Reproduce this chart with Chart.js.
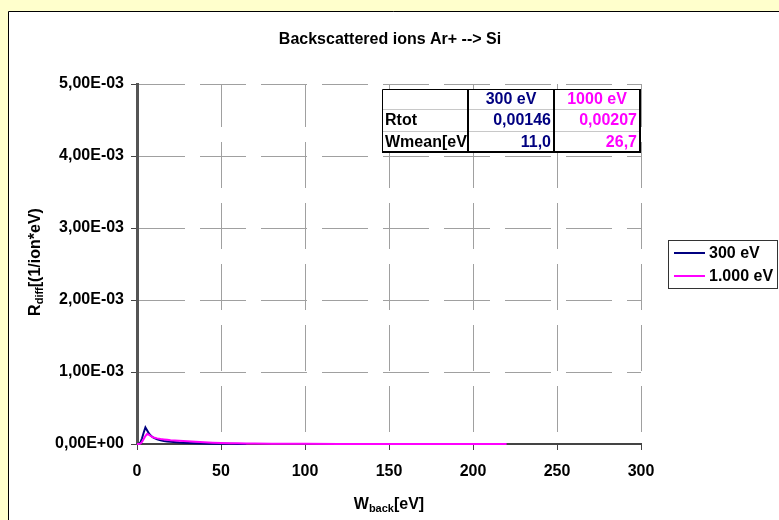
<!DOCTYPE html>
<html lang="en">
<head>
    <meta charset="UTF-8">
    <title>Backscattered ions Ar+ --> Si</title>
    <script src="https://cdn.jsdelivr.net/npm/chart.js"></script>
    <style>
        body { margin: 0; background: #FFFFCC; }
        #wrap { width: 779px; height: 520px; }
    </style>
</head>
<body>
    <div id="wrap"><canvas id="chart" width="779" height="520"></canvas></div>
    <script>
        // energies of backscattered ions [eV]
        const energy300 = [0, 1, 2, 3, 4, 5, 6, 7, 8, 9, 10, 12, 14, 16, 18, 20, 25, 30, 35, 40, 45, 50, 55, 60, 65];
        const rdiff300 = [0, 0, 0.00002, 0.00008, 0.00016, 0.00023, 0.00019, 0.00015, 0.00012, 0.0001, 0.000085, 0.000065,
            0.000052, 0.000043, 0.000036, 0.00003, 0.00002, 0.000014, 0.00001, 0.000007, 0.000005, 0.000003, 0.000002, 0.000001, 0];

        const energy1000 = [0, 1, 2, 3, 4, 5, 6, 7, 8, 9, 10, 12, 14, 16, 18, 20, 25, 30, 35, 40, 45, 50, 55, 60, 65,
            70, 80, 90, 100, 120, 140, 160, 180, 200, 220];
        const rdiff1000 = [0, 0, 0.000005, 0.00003, 0.00007, 0.00011, 0.00014, 0.00013, 0.000115, 0.0001, 0.00009, 0.000078,
            0.00007, 0.000064, 0.000058, 0.000053, 0.000045, 0.000037, 0.00003, 0.000024, 0.000019, 0.000015, 0.000012, 0.00001, 0.000008,
            0.000006, 0.000004, 0.000003, 0.000002, 0.0000015, 0.000001, 0.0000008, 0.0000005, 0.0000003, 0];

        const seriesLabels = ['300 eV', '1.000 eV'];
        const xTicks = [0, 50, 100, 150, 200, 250, 300];
        const yTicks = [0, 0.001, 0.002, 0.003, 0.004, 0.005];

        // summary table in the top right of the plot
        const tableHeader = ['', '300 eV', '1000 eV'];
        const tableRows = [
            ['Rtot', '0,00146', '0,00207'],
            ['Wmean[eV]', '11,0', '26,7']
        ];

        const NAVY = '#000080';
        const MAGENTA = '#FF00FF';
        const FONT = 'bold 16px "Liberation Sans", Arial, sans-serif';

        function fmtSci(v) {
            if (Math.abs(v) < 1e-12) return '0,00E+00';
            const e = Math.floor(Math.log10(Math.abs(v)) + 1e-9);
            const m = v / Math.pow(10, e);
            return m.toFixed(2).replace('.', ',') + 'E' + (e < 0 ? '-' : '+') + String(Math.abs(e)).padStart(2, '0');
        }

        const toPoints = (xs, ys) => xs.map((x, i) => ({ x: x, y: ys[i] }));

        // background, frame, title, axis titles, table, legend
        const decorations = {
            id: 'decorations',
            beforeDraw(chart) {
                const ctx = chart.ctx;
                ctx.save();
                ctx.fillStyle = '#FFFFCC';
                ctx.fillRect(0, 0, chart.width, chart.height);
                ctx.fillStyle = '#FFFFFF';
                ctx.fillRect(8, 11, chart.width, chart.height);
                ctx.strokeStyle = '#000';
                ctx.lineWidth = 1;
                ctx.beginPath();
                ctx.moveTo(8.5, chart.height);
                ctx.lineTo(8.5, 11.5);
                ctx.lineTo(chart.width, 11.5);
                ctx.stroke();
                ctx.restore();
            },
            afterDraw(chart) {
                const ctx = chart.ctx;
                const area = chart.chartArea;
                ctx.save();
                ctx.fillStyle = '#000';

                // title
                ctx.font = FONT;
                ctx.textAlign = 'center';
                ctx.textBaseline = 'middle';
                ctx.fillText('Backscattered ions Ar+ --> Si', 390, 40);

                // x axis title with subscript
                drawSub(ctx, 'W', 'back', '[eV]', (area.left + area.right) / 2, 509);

                // y axis title, rotated
                ctx.save();
                ctx.translate(40, 262);
                ctx.rotate(-Math.PI / 2);
                drawSub(ctx, 'R', 'diff', '[(1/ion*eV)', 0, 0);
                ctx.restore();

                drawTable(ctx);
                drawLegend(ctx, chart);
                ctx.restore();
            }
        };

        function drawSub(ctx, main, sub, rest, cx, baseline) {
            const subFont = 'bold 11px "Liberation Sans", Arial, sans-serif';
            ctx.font = FONT;
            const w1 = ctx.measureText(main).width;
            const w3 = ctx.measureText(rest).width;
            ctx.font = subFont;
            const w2 = ctx.measureText(sub).width;
            let x = cx - (w1 + w2 + w3) / 2;
            ctx.textAlign = 'left';
            ctx.textBaseline = 'alphabetic';
            ctx.fillStyle = '#000';
            ctx.font = FONT;
            ctx.fillText(main, x, baseline);
            x += w1;
            ctx.font = subFont;
            ctx.fillText(sub, x, baseline + 3);
            x += w2;
            ctx.font = FONT;
            ctx.fillText(rest, x, baseline);
        }

        function drawTable(ctx) {
            const cols = [382, 468, 554, 640];
            const rows = [89, 109, 131, 152];
            const colours = ['#000', NAVY, MAGENTA];
            ctx.fillStyle = '#fff';
            ctx.fillRect(cols[0], rows[0], cols[3] - cols[0], rows[3] - rows[0]);

            const all = [tableHeader].concat(tableRows);
            ctx.font = FONT;
            ctx.textBaseline = 'middle';
            all.forEach((row, r) => {
                const cy = (rows[r] + rows[r + 1]) / 2 + 1;
                row.forEach((txt, c) => {
                    ctx.save();
                    ctx.beginPath();
                    ctx.rect(cols[c], rows[r], cols[c + 1] - cols[c], rows[r + 1] - rows[r]);
                    ctx.clip();
                    ctx.fillStyle = colours[c];
                    if (c === 0) {
                        ctx.textAlign = 'left';
                        ctx.fillText(txt, cols[c] + 3, cy);
                    } else if (r === 0) {
                        ctx.textAlign = 'center';
                        ctx.fillText(txt, (cols[c] + cols[c + 1]) / 2, cy);
                    } else {
                        ctx.textAlign = 'right';
                        ctx.fillText(txt, cols[c + 1] - 3, cy);
                    }
                    ctx.restore();
                });
            });

            // thin lines
            ctx.strokeStyle = '#c8c8c8';
            ctx.lineWidth = 1;
            ctx.beginPath();
            ctx.moveTo(cols[0], rows[1] + 0.5); ctx.lineTo(cols[3], rows[1] + 0.5);
            ctx.moveTo(cols[0], rows[2] + 0.5); ctx.lineTo(cols[3], rows[2] + 0.5);
            ctx.stroke();
            ctx.strokeStyle = '#000';
            ctx.beginPath();
            ctx.moveTo(cols[0] + 0.5, rows[3]); ctx.lineTo(cols[0] + 0.5, rows[0] + 0.5); ctx.lineTo(cols[3], rows[0] + 0.5);
            ctx.stroke();
            // thick lines
            ctx.lineWidth = 2;
            ctx.beginPath();
            [1, 2, 3].forEach(c => { ctx.moveTo(cols[c], rows[0]); ctx.lineTo(cols[c], rows[3]); });
            ctx.moveTo(cols[0], rows[3]); ctx.lineTo(cols[3] + 1, rows[3]);
            ctx.stroke();
        }

        function drawLegend(ctx, chart) {
            const box = { left: 668, top: 240, right: 777, bottom: 288 };
            ctx.fillStyle = '#fff';
            ctx.fillRect(box.left, box.top, box.right - box.left, box.bottom - box.top);
            ctx.strokeStyle = '#333';
            ctx.lineWidth = 1;
            ctx.strokeRect(box.left + 0.5, box.top + 0.5, box.right - box.left, box.bottom - box.top);
            const ys = [253, 276];
            chart.data.datasets.forEach((ds, i) => {
                ctx.strokeStyle = ds.borderColor;
                ctx.lineWidth = 2;
                ctx.beginPath();
                ctx.moveTo(674, ys[i]);
                ctx.lineTo(705, ys[i]);
                ctx.stroke();
                ctx.fillStyle = '#000';
                ctx.font = FONT;
                ctx.textAlign = 'left';
                ctx.textBaseline = 'middle';
                ctx.fillText(ds.label, 709, ys[i] + 1);
            });
        }

        new Chart(document.getElementById('chart'), {
            type: 'line',
            data: {
                datasets: [
                    {
                        label: seriesLabels[0],
                        data: toPoints(energy300, rdiff300),
                        borderColor: NAVY,
                        borderWidth: 2,
                        pointRadius: 0,
                        tension: 0,
                        clip: false,
                        order: 1
                    },
                    {
                        label: seriesLabels[1],
                        data: toPoints(energy1000, rdiff1000),
                        borderColor: MAGENTA,
                        borderWidth: 2,
                        pointRadius: 0,
                        tension: 0,
                        clip: false,
                        order: 0
                    }
                ]
            },
            options: {
                responsive: false,
                animation: false,
                devicePixelRatio: 1,
                layout: { padding: { left: 0, right: 138, top: 84, bottom: 16 } },
                plugins: {
                    legend: { display: false },
                    tooltip: { enabled: false },
                    title: { display: false }
                },
                scales: {
                    x: {
                        type: 'linear',
                        min: 0,
                        max: 300,
                        afterBuildTicks: s => { s.ticks = xTicks.map(v => ({ value: v })); },
                        afterFit: s => { s.height = 60; },
                        grid: { color: '#a0a0a0', lineWidth: 1, tickLength: 6, tickColor: '#444', tickWidth: 1 },
                        border: { display: true, color: '#444', width: 2, dash: [46, 15], dashOffset: 3 },
                        ticks: {
                            color: '#000',
                            padding: 12,
                            maxRotation: 0,
                            font: { family: '"Liberation Sans", Arial, sans-serif', size: 16, weight: 'bold' }
                        }
                    },
                    y: {
                        min: 0,
                        max: 0.005,
                        afterBuildTicks: s => { s.ticks = yTicks.map(v => ({ value: v })); },
                        afterFit: s => { s.width = 137; },
                        grid: { color: '#a0a0a0', lineWidth: 1, tickLength: 6, tickColor: '#444', tickWidth: 1 },
                        border: { display: true, color: '#555', width: 3, dash: [46, 15] },
                        ticks: {
                            color: '#000',
                            padding: 7,
                            callback: v => fmtSci(v),
                            font: { family: '"Liberation Sans", Arial, sans-serif', size: 16, weight: 'bold' }
                        }
                    }
                }
            },
            plugins: [decorations]
        });
    </script>
</body>
</html>
